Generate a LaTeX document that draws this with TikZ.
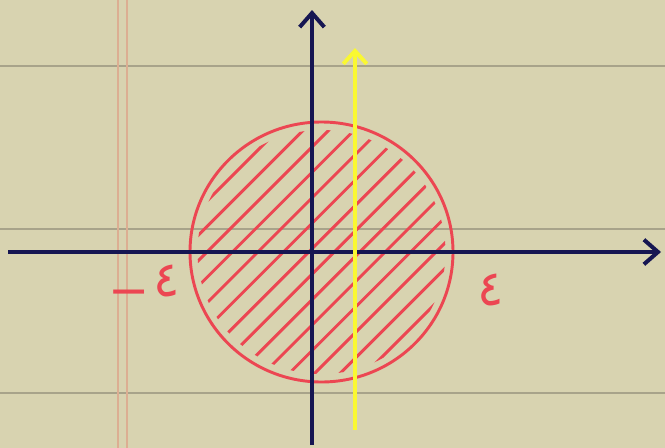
\documentclass[tikz,border=0pt]{standalone}
\usepackage{fontspec}
\newfontfamily\arabicfont[Script=Arabic]{DejaVu Sans}
\usepackage{tikz}
\usetikzlibrary{arrows.meta}

\definecolor{paper}{RGB}{216,211,176}
\definecolor{ruleline}{RGB}{168,163,138}
\definecolor{margin}{RGB}{220,174,146}
\definecolor{axisblue}{RGB}{22,22,82}
\definecolor{penred}{RGB}{236,70,82}
\definecolor{penyellow}{RGB}{250,248,50}

\begin{document}
\begin{tikzpicture}[
    x=0.03cm, y=-0.03cm,
    ruled/.style={draw=ruleline, line width=1.6pt},
    marginline/.style={draw=margin, line width=2.4pt},
    axis/.style={draw=axisblue, line width=3.8pt, -{Straight Barb[length=12pt, width=21pt, line width=3.4pt]}},
    pen/.style={draw=penred, line width=2.5pt, line cap=round},
    penlabel/.style={text=penred, font=\arabicfont\fontsize{42}{42}\selectfont, inner sep=0pt}
]
% paper
\fill[paper] (0,0) rectangle (665,448);
\useasboundingbox (0,0) rectangle (665,448);

% ruled lines and margin
\foreach \ry in {66,229,393}
    \draw[ruled] (0,\ry) -- (665,\ry);
\draw[marginline] (118,0) -- (118,448);
\draw[marginline] (127,0) -- (127,448);

% circle and hatching
\coordinate (o) at (321.5,252);
\begin{scope}
    \clip (o) circle[x radius=124, y radius=122];
    \foreach \d in {-117,-99,...,125}
        \draw[pen] ([shift={(\d*0.707,\d*0.707)}]o) ++(-200,200) -- ++(400,-400);
\end{scope}
\draw[pen] (o) circle[x radius=131.5, y radius=130];

% axes
\coordinate (xl) at (8,252);
\coordinate (xr) at (661,252);
\coordinate (yb) at (312,445);
\coordinate (yt) at (312,10);
\draw[axis] (xl) -- (xr);
\draw[axis] (yb) -- (yt);

% yellow line
\coordinate (yelb) at (355,430);
\coordinate (yelt) at (355,48);
\draw[draw=penyellow, line width=4pt, -{Straight Barb[length=11pt, width=20pt, line width=3.4pt]}] (yelb) -- (yelt);

% labels
\node[penlabel] (minusfour) at (144,286) {\raisebox{-9pt}{−}\hspace{3pt}٤};
\node[penlabel] (four) at (491,290) {٤};

\end{tikzpicture}
\end{document}
